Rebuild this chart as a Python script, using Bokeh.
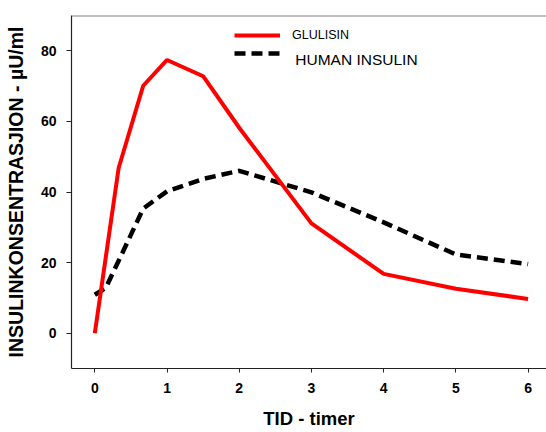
from bokeh.plotting import figure
from bokeh.models import Range1d, FixedTicker, Span, Legend, LegendItem, Label
from bokeh.embed import file_html
from bokeh.resources import INLINE

# Data
time_glulisin = [0, 0.33, 0.67, 1, 1.5, 2, 3, 4, 5, 6]
glulisin = [0, 46.8, 70.1, 77.4, 72.8, 58.2, 31.1, 16.8, 12.6, 9.7]

time_human = [0, 0.15, 0.33, 0.67, 1, 1.5, 2, 3, 4, 5, 6]
human_insulin = [10.9, 12.8, 20.5, 35.3, 40.2, 43.7, 46.0, 39.9, 31.4, 22.3, 19.6]

x_ticks = [0, 1, 2, 3, 4, 5, 6]
y_ticks = [0, 20, 40, 60, 80]

series_names = ["GLULISIN", "HUMAN INSULIN"]

FONT = "Liberation Sans"

p = figure(width=546, height=432, output_backend="svg", toolbar_location=None,
           x_range=Range1d(-0.323, 6.255), y_range=Range1d(-10, 90),
           min_border_left=71, min_border_right=0, min_border_top=15, min_border_bottom=64)
p.outline_line_color = None
p.xgrid.visible = False
p.ygrid.visible = False
p.background_fill_color = "white"

# top border (gray)
p.add_layout(Span(location=90, dimension="width", line_color="#808080", line_width=2))

for ax in (p.xaxis[0], p.yaxis[0]):
    ax.axis_line_color = "#222222"
    ax.axis_line_width = 1.2
    ax.major_tick_line_color = "#222222"
    ax.minor_tick_line_color = None
    ax.major_tick_in = 0
    ax.major_label_text_font = FONT
    ax.major_label_text_font_style = "bold"
    ax.major_label_text_font_size = "14px"
    ax.major_label_text_color = "black"
    ax.axis_label_text_font = FONT
    ax.axis_label_text_font_style = "bold"
    ax.axis_label_text_color = "black"

p.xaxis.ticker = FixedTicker(ticks=x_ticks)
p.yaxis.ticker = FixedTicker(ticks=y_ticks)
p.xaxis.major_tick_out = 4
p.yaxis.major_tick_out = 5
p.xaxis.major_label_standoff = 10
p.yaxis.major_label_standoff = 10
p.xaxis.axis_label = "TID - timer"
p.yaxis.axis_label = "INSULINKONSENTRASJION - µU/ml"
p.xaxis.axis_label_text_font_size = "18.5px"
p.yaxis.axis_label_text_font_size = "19.5px"
p.xaxis.axis_label_standoff = 12
p.yaxis.axis_label_standoff = 11

r_h = p.line(time_human, human_insulin, line_color="black", line_width=4.5, line_dash="11 6")
r_g = p.line(time_glulisin, glulisin, line_color="#ff0000", line_width=4)

leg1 = Legend(items=[LegendItem(label=series_names[0], renderers=[r_g])],
              location=(163, 323), padding=0, margin=0, border_line_color=None,
              background_fill_alpha=0, glyph_width=46, glyph_height=20, label_height=20,
              label_standoff=12, label_text_font=FONT, label_text_font_size="12.5px",
              label_text_color="black")
# the reference draws the second legend text a bit lower than its line sample
leg2 = Legend(items=[LegendItem(label=" ", renderers=[r_h])],
              location=(163, 305), padding=0, margin=0, border_line_color=None,
              background_fill_alpha=0, glyph_width=46, glyph_height=20, label_height=20,
              label_standoff=0, label_text_font_size="1px")
p.add_layout(leg1)
p.add_layout(leg2)
p.add_layout(Label(x=2.776, y=77.5, text=series_names[1], text_font=FONT,
                   text_font_size="15.5px", text_baseline="middle", text_align="left",
                   text_color="black"))

open("out.html", "w").write(file_html(p, INLINE))
